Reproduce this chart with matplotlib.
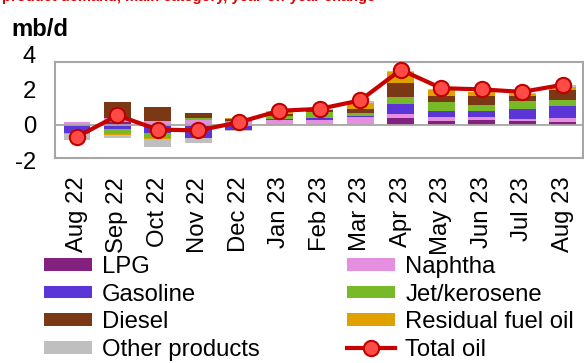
import numpy as np
import matplotlib
matplotlib.use("Agg")
import matplotlib.pyplot as plt
import matplotlib.transforms as mtransforms
from matplotlib.lines import Line2D
from matplotlib.patches import Patch

plt.rcParams["font.family"] = ["Liberation Sans", "DejaVu Sans"]

months = ["Aug 22", "Sep 22", "Oct 22", "Nov 22", "Dec 22", "Jan 23", "Feb 23",
          "Mar 23", "Apr 23", "May 23", "Jun 23", "Jul 23", "Aug 23"]

# year-on-year change by product, mb/d
lpg = [0.00, 0.20, 0.05, 0.05, 0.05, 0.05, 0.05, 0.02, 0.45, 0.28, 0.30, 0.24, 0.19]
naphtha = [0.17, 0.20, 0.20, 0.28, 0.15, 0.25, 0.26, 0.45, 0.20, 0.18, 0.16, 0.10, 0.23]
gasoline = [-0.45, -0.20, -0.40, -0.72, -0.28, 0.05, 0.12, 0.08, 0.55, 0.36, 0.36, 0.58, 0.67]
jet_kero = [0.00, -0.28, -0.30, 0.10, 0.05, 0.20, 0.35, 0.15, 0.40, 0.52, 0.36, 0.48, 0.33]
diesel = [0.03, 0.92, 0.78, 0.25, 0.10, 0.10, 0.08, 0.25, 0.80, 0.30, 0.47, 0.24, 0.60]
resid = [-0.03, -0.05, -0.06, 0.00, 0.10, 0.10, 0.00, 0.32, 0.60, 0.36, 0.22, 0.14, 0.18]
other = [-0.32, -0.20, -0.45, -0.25, -0.05, 0.05, 0.05, 0.12, 0.10, 0.06, 0.05, 0.05, 0.10]
total_oil = [-0.65, 0.57, -0.23, -0.28, 0.18, 0.83, 0.94, 1.42, 3.15, 2.11, 2.04, 1.90, 2.30]

series = [
    ("LPG", lpg, "#84217F"),
    ("Naphtha", naphtha, "#E48FE0"),
    ("Gasoline", gasoline, "#5B35D8"),
    ("Jet/kerosene", jet_kero, "#77B927"),
    ("Diesel", diesel, "#7B3815"),
    ("Residual fuel oil", resid, "#E0A100"),
    ("Other products", other, "#BFBFBF"),
]

FS = 17.2
W, H = 584, 363
fig = plt.figure(figsize=(W / 100, H / 100), dpi=100)
ax = fig.add_axes([55 / W, 1 - 158 / H, 528 / W, 96 / H])

x = np.arange(len(months))
pos_base = np.zeros(len(months))
neg_base = np.zeros(len(months))
handles = {}
for name, vals, color in series:
    v = np.array(vals)
    base = np.where(v >= 0, pos_base, neg_base)
    ax.bar(x, v, 0.66, bottom=base, color=color, linewidth=0, zorder=2)
    pos_base += np.clip(v, 0, None)
    neg_base += np.clip(v, None, 0)
    handles[name] = Patch(facecolor=color, edgecolor="none")

ax.axhline(0, color="#A6A6A6", lw=1.3, zorder=3)
ax.plot(x, total_oil, color="#C80000", lw=3, marker="o", ms=11,
        mfc="#FF4B45", mec="#C00000", mew=1.5, zorder=5, clip_on=False)
handles["Total oil"] = Line2D([], [], color="#C80000", lw=3, marker="o", ms=11,
                              mfc="#FF4B45", mec="#C00000", mew=1.5)

ax.set_xlim(-0.54, 12.5)
ax.set_ylim(-1.84, 3.59)
for s in ax.spines.values():
    s.set_color("#A6A6A6")
    s.set_linewidth(1.5)
ax.set_yticks([])
ax.set_xticks(x)
ax.set_xticklabels(months, rotation=90, fontsize=FS)
ax.tick_params(axis="x", length=0, pad=13.5)

# y labels sit at their data values, -2 and 4 fall just outside the frame
lab_tr = ax.get_yaxis_transform() + mtransforms.ScaledTranslation(0, -2 / 100, fig.dpi_scale_trans)
for v in [-2, 0, 2, 4]:
    ax.text(-0.036, v, str(v), transform=lab_tr,
            ha="right", va="center", fontsize=FS)

fig.text(11 / W, 1 - 30 / H, "mb/d", fontsize=FS, fontweight="bold", va="center")
fig.text(0.004, 1 - 0.5 / H, "product demand, main category, year-on-year change",
         color="#E00000", fontsize=10.5, fontweight="bold", va="baseline")

order = ["LPG", "Gasoline", "Diesel", "Other products",
         "Naphtha", "Jet/kerosene", "Residual fuel oil", "Total oil"]
fig.legend([handles[k] for k in order], order, ncol=2, loc="upper left",
           bbox_to_anchor=(44 / W, 1 - 256 / H), frameon=False, fontsize=FS,
           handlelength=2.0, handleheight=0.43, handletextpad=0.42,
           columnspacing=3.68, labelspacing=0.235, borderaxespad=0, borderpad=0)

fig.savefig("out.png", dpi=100)
